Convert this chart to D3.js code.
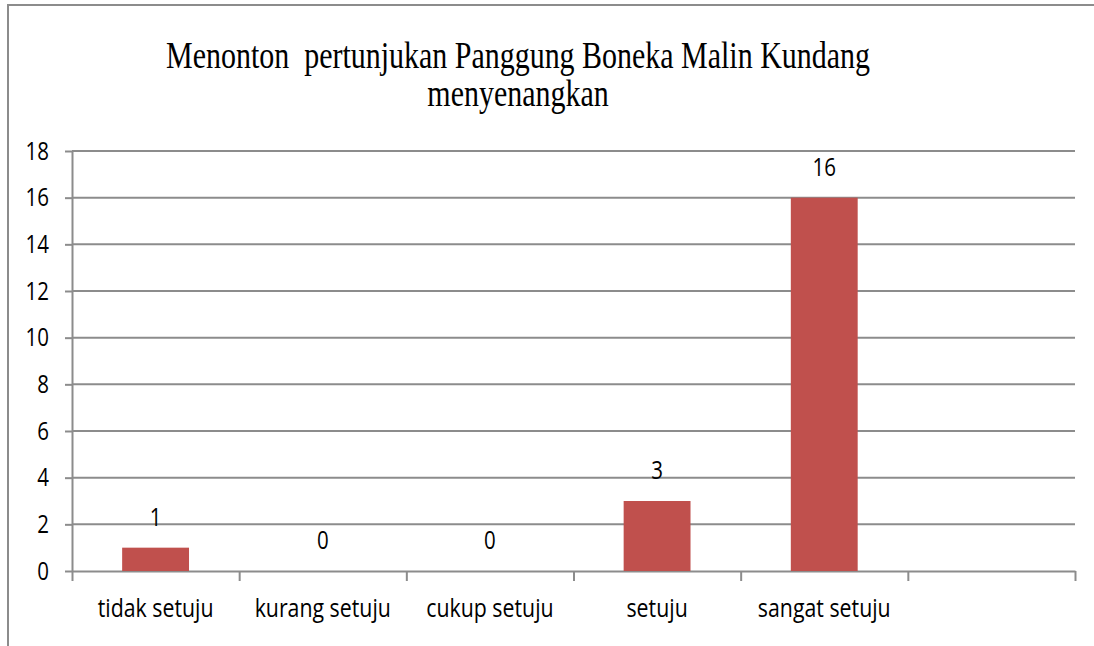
<!DOCTYPE html>
<html>
<head>
<meta charset="utf-8">
<script src="https://cdn.jsdelivr.net/npm/d3@7"></script>
<style>
  body { margin: 0; background: #fff; }
  svg { display: block; }
</style>
</head>
<body>
<svg id="chart"></svg>
<script>
// chart data
var categories = ["tidak setuju", "kurang setuju", "cukup setuju", "setuju", "sangat setuju", ""];
var values = [1, 0, 0, 3, 16, null];
var yTicks = [0, 2, 4, 6, 8, 10, 12, 14, 16, 18];
var titleLines = ["Menonton  pertunjukan Panggung Boneka Malin Kundang", "menyenangkan"];

var width = 1094,
    height = 646;
var plotLeft = 72, plotRight = 1075, plotTop = 151, plotBottom = 571;
var squeeze = 0.82; // text in the picture is horizontally compressed
var gridColor = "#8c8c8c",
    barColor = "#c0504d";

var svg = d3.select("#chart")
    .attr("width", width)
    .attr("height", height);

// outer frame (only top and left visible)
svg.append("path")
    .attr("d", "M8," + height + "V5H" + width)
    .attr("fill", "none")
    .attr("stroke", gridColor)
    .attr("stroke-width", 2);

var x = d3.scaleBand()
    .domain(categories)
    .range([plotLeft, plotRight])
    .paddingInner(0.6)
    .paddingOuter(0.3);

var xEdges = d3.scaleLinear()
    .domain([0, categories.length])
    .range([plotLeft, plotRight]);

var y = d3.scaleLinear()
    .domain([0, 18])
    .range([plotBottom, plotTop]);

// title
svg.selectAll(".title")
    .data(titleLines)
    .enter().append("text")
    .attr("class", "title")
    .attr("transform", (d, i) => "translate(518," + (68 + i * 38) + ") scale(0.81,1)")
    .attr("text-anchor", "middle")
    .attr("font-family", "'Liberation Serif', 'Times New Roman', serif")
    .attr("font-size", "37px")
    .attr("fill", "#000")
    .style("white-space", "pre")
    .text(d => d);

// gridlines
svg.append("g")
    .selectAll("line")
    .data(yTicks.slice(1))
    .enter().append("line")
    .attr("x1", plotLeft)
    .attr("x2", plotRight)
    .attr("y1", d => y(d))
    .attr("y2", d => y(d))
    .attr("stroke", gridColor)
    .attr("stroke-width", 2);

// y axis
var yAxis = svg.append("g")
    .attr("transform", "translate(" + plotLeft + ",0)")
    .call(d3.axisLeft(y).tickValues(yTicks).tickSize(7).tickSizeOuter(0).tickPadding(0));
yAxis.select(".domain").attr("stroke", gridColor).attr("stroke-width", 2);
yAxis.selectAll(".tick line").attr("stroke", gridColor).attr("stroke-width", 2);
yAxis.selectAll(".tick text")
    .attr("x", null)
    .attr("transform", "translate(-23,0) scale(" + squeeze + ",1)")
    .attr("font-family", "'Open Sans', sans-serif")
    .attr("font-size", "25px")
    .attr("fill", "#000");

// x axis: ticks on category edges
var xAxis = svg.append("g")
    .attr("transform", "translate(0," + plotBottom + ")")
    .call(d3.axisBottom(xEdges).ticks(categories.length).tickFormat("").tickSize(10).tickSizeOuter(0));
xAxis.select(".domain").attr("stroke", gridColor).attr("stroke-width", 2);
xAxis.selectAll(".tick line").attr("stroke", gridColor).attr("stroke-width", 2);

// category labels
svg.append("g")
    .selectAll("text")
    .data(categories)
    .enter().append("text")
    .attr("transform", d => "translate(" + (x(d) + x.bandwidth() / 2) + ",617) scale(" + squeeze + ",1)")
    .attr("text-anchor", "middle")
    .attr("font-family", "'Open Sans', sans-serif")
    .attr("font-size", "26px")
    .attr("fill", "#000")
    .text(d => d);

var data = categories.map((c, i) => ({ cat: c, value: values[i] }))
    .filter(d => d.value !== null);

// bars
svg.append("g")
    .selectAll("rect")
    .data(data)
    .enter().append("rect")
    .attr("x", d => x(d.cat))
    .attr("y", d => y(d.value))
    .attr("width", x.bandwidth())
    .attr("height", d => y(0) - y(d.value))
    .attr("fill", barColor);

// value labels
svg.append("g")
    .selectAll("text")
    .data(data)
    .enter().append("text")
    .attr("transform", d => "translate(" + (x(d.cat) + x.bandwidth() / 2) + "," + (y(d.value) - 22) + ") scale(" + squeeze + ",1)")
    .attr("text-anchor", "middle")
    .attr("font-family", "'Open Sans', sans-serif")
    .attr("font-size", "25px")
    .attr("fill", "#000")
    .text(d => d.value);
</script>
</body>
</html>
